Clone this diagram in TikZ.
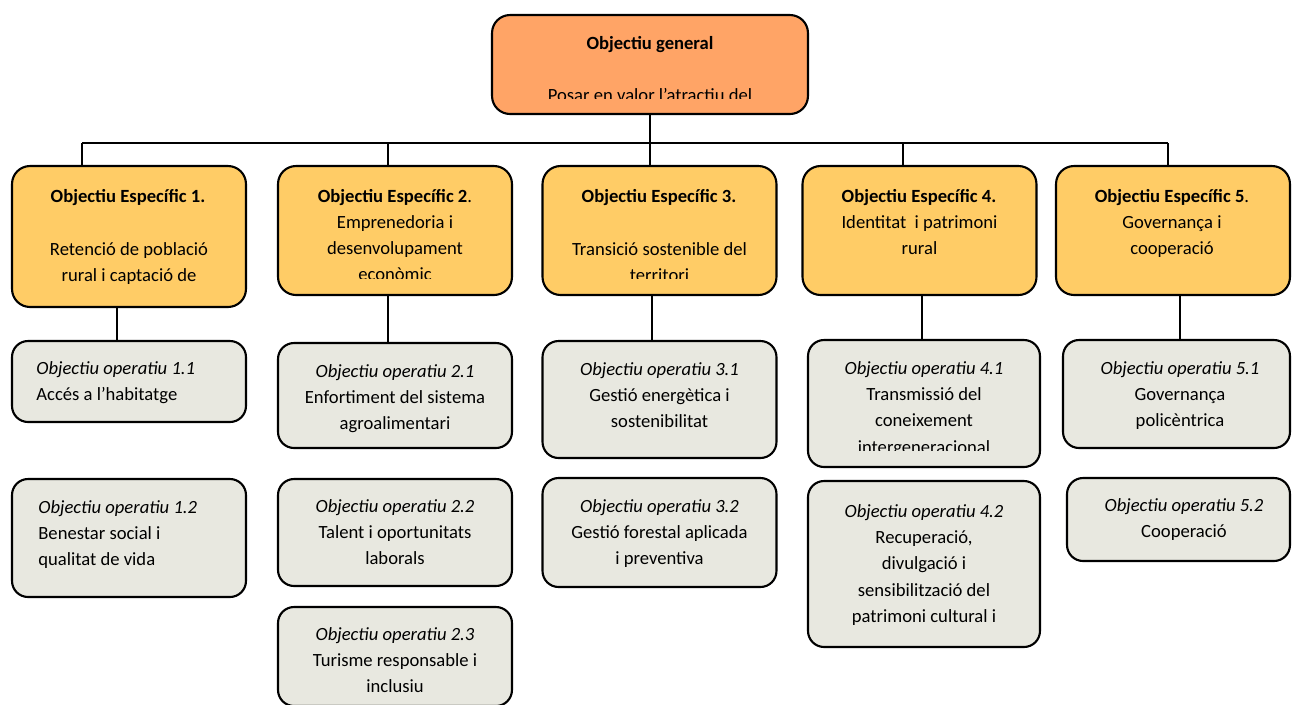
\documentclass[tikz,border=0pt]{standalone}
\usepackage{fontspec}
\setmainfont{Carlito}
\definecolor{genorange}{RGB}{255,164,102}
\definecolor{esyellow}{RGB}{255,204,102}
\definecolor{opgrey}{RGB}{232,232,224}
\tikzset{
  box/.style={draw, line width=1.2pt, rounded corners=0.36cm, minimum width=4.68cm, inner sep=0pt},
  genbox/.style={box, fill=genorange},
  esbox/.style={box, fill=esyellow},
  opbox/.style={box, fill=opgrey, rounded corners=0.32cm},
  link/.style={draw, line width=1pt},
  txt/.style={inner sep=0pt, align=center, anchor=north, font=\fontsize{10.6}{14.96}\selectfont},
  ttl/.style={inner sep=0pt, anchor=base, font=\fontsize{10.6}{14.96}\selectfont\bfseries},
}
\begin{document}
\begin{tikzpicture}[x=0.02cm, y=-0.02cm]
\useasboundingbox (0,0) rectangle (1292,704);

\node[genbox, minimum width=6.32cm, minimum height=1.98cm] (gen) at (650,64.5) {};
\node[ttl] (gent) at (650,49) {Objectiu general};
\begin{scope}
\clip (492,15) rectangle (808,98);
\node[txt] (genb) at (650,82.6) {\strut Posar en valor l’atractiu del\\territori};
\end{scope}

\node[esbox, minimum height=2.82cm] (es1) at (129,236.5) {};
\node[esbox, minimum height=2.58cm] (es2) at (395,230.5) {};
\node[esbox, minimum height=2.58cm] (es3) at (659.5,230.5) {};
\node[esbox, minimum height=2.58cm] (es4) at (919.5,230.5) {};
\node[esbox, minimum height=2.58cm] (es5) at (1173,230.5) {};

\node[ttl] (es1t) at (128,202) {Objectiu Específic 1.};
\node[ttl] (es2t) at (395,202) {Objectiu Específic 2\mdseries.};
\node[ttl] (es3t) at (659,202) {Objectiu Específic 3.};
\node[ttl] (es4t) at (919,202) {Objectiu Específic 4.};
\node[ttl] (es5t) at (1172,202) {Objectiu Específic 5\mdseries.};

\node[txt] (es1b) at (129,236.6) {\strut Retenció de població\\rural i captació de};
\begin{scope}
\clip (278,166) rectangle (512,278);
\node[txt] (es2b) at (395,209.6) {\strut Emprenedoria i\\desenvolupament\\econòmic};
\end{scope}
\begin{scope}
\clip (543,166) rectangle (776,278);
\node[txt] (es3b) at (659.5,236.6) {\strut Transició sostenible del\\territori};
\end{scope}
\node[txt] (es4b) at (919.5,209.6) {\strut Identitat\ \ i patrimoni\\rural};
\node[txt] (es5b) at (1172,209.6) {\strut Governança i\\cooperació};

\coordinate (bar1) at (82,143);
\coordinate (bar2) at (388,143);
\coordinate (bar4) at (903,143);
\coordinate (bar5) at (1168,143);
\path[link] (gen.south) -- (gen.south |- es3.north);
\path[link] (bar1) -- (bar5);
\path[link] (bar1) -- (bar1 |- es1.north);
\path[link] (bar2) -- (bar2 |- es2.north);
\path[link] (bar4) -- (bar4 |- es4.north);
\path[link] (bar5) -- (bar5 |- es5.north);

\node[opbox, minimum height=1.62cm] (op11) at (129,381.5) {};
\node[opbox, minimum height=2.36cm] (op12) at (129,538) {};
\node[opbox, minimum height=2.10cm] (op21) at (395,395.5) {};
\node[opbox, minimum height=2.14cm] (op22) at (395,532.5) {};
\node[opbox, minimum height=1.98cm] (op23) at (395,656.5) {};
\node[opbox, minimum height=2.34cm] (op31) at (659.5,399.5) {};
\node[opbox, minimum height=2.18cm] (op32) at (659.5,532.5) {};
\node[opbox, minimum width=4.64cm, minimum height=2.54cm] (op41) at (924,403.5) {};
\node[opbox, minimum width=4.64cm, minimum height=3.32cm] (op42) at (924,564) {};
\node[opbox, minimum width=4.54cm, minimum height=2.16cm] (op51) at (1176.5,394) {};
\node[opbox, minimum width=4.46cm, minimum height=1.66cm] (op52) at (1178.5,519.5) {};

\node[txt, anchor=north west, align=left] (op11t) at (36,355.6) {\strut\textit{Objectiu operatiu 1.1}\\Accés a l’habitatge};
\node[txt, anchor=north west, align=left] (op12t) at (38,494.6) {\strut\textit{Objectiu operatiu 1.2}\\Benestar social i\\qualitat de vida};
\node[txt] (op21t) at (395,358.6) {\strut\textit{Objectiu operatiu 2.1}\\Enfortiment del sistema\\agroalimentari};
\node[txt] (op22t) at (395,493.6) {\strut\textit{Objectiu operatiu 2.2}\\Talent i oportunitats\\laborals};
\node[txt] (op23t) at (395,621.6) {\strut\textit{Objectiu operatiu 2.3}\\Turisme responsable i\\inclusiu};
\node[txt] (op31t) at (659.5,356.6) {\strut\textit{Objectiu operatiu 3.1}\\Gestió energètica i\\sostenibilitat};
\node[txt] (op32t) at (659.5,493.6) {\strut\textit{Objectiu operatiu 3.2}\\Gestió forestal aplicada\\i preventiva};
\begin{scope}
\clip (808,340) rectangle (1040,450);
\node[txt] (op41t) at (924,355.6) {\strut\textit{Objectiu operatiu 4.1}\\Transmissió del\\coneixement\\intergeneracional};
\end{scope}
\node[txt] (op42t) at (924,498.6) {\strut\textit{Objectiu operatiu 4.2}\\Recuperació,\\divulgació i\\sensibilització del\\patrimoni cultural i};
\node[txt] (op51t) at (1180,355.6) {\strut\textit{Objectiu operatiu 5.1}\\Governança\\policèntrica};
\node[txt] (op52t) at (1184,492.6) {\strut\textit{Objectiu operatiu 5.2}\\Cooperació};

\coordinate (drop1) at (117,0);
\coordinate (drop2) at (388,0);
\coordinate (drop3) at (652,0);
\coordinate (drop4) at (922,0);
\coordinate (drop5) at (1180,0);
\path[link] (drop1 |- es1.south) -- (drop1 |- op11.north);
\path[link] (drop2 |- es2.south) -- (drop2 |- op21.north);
\path[link] (drop3 |- es3.south) -- (drop3 |- op31.north);
\path[link] (drop4 |- es4.south) -- (drop4 |- op41.north);
\path[link] (drop5 |- es5.south) -- (drop5 |- op51.north);
\end{tikzpicture}
\end{document}
